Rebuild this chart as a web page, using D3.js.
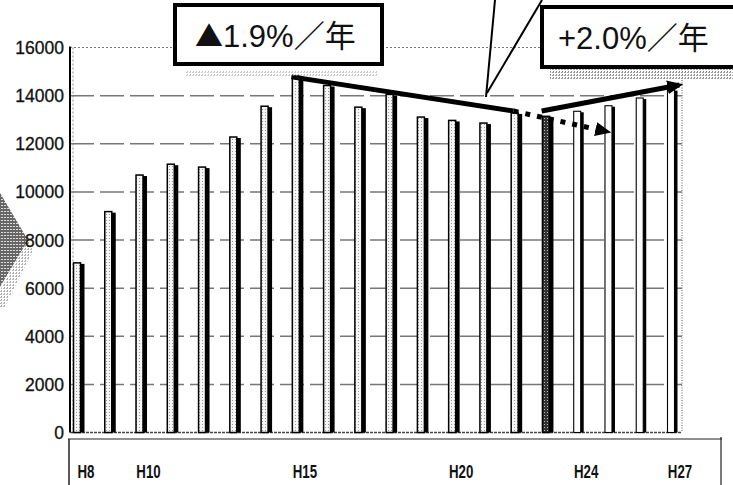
<!DOCTYPE html>
<html lang="ja">
<head>
  <meta charset="UTF-8">
  <title>推移</title>
  <script src="https://d3js.org/d3.v7.min.js"></script>
  <style>
    body { margin: 0; background: #fff; }
    svg { display: block; }
    .ytick { font-family: 'Liberation Sans', Arial, sans-serif; font-size: 17.5px; fill: #111; stroke: #111; stroke-width: 0.3px; }
    .xtick { font-family: 'Liberation Sans', Arial, sans-serif; font-size: 19px; font-weight: bold; fill: #111; }
    .boxtext { font-family: 'Liberation Sans', 'Noto Sans CJK JP', sans-serif; font-size: 31px; fill: #111; }
    .tri { font-family: 'Noto Sans CJK JP', sans-serif; font-size: 28px; }
  </style>
</head>
<body>
  <svg id="chart" width="733" height="485"></svg>
  <script>
    // data
    const years = ["H8","H9","H10","H11","H12","H13","H14","H15","H16","H17",
                   "H18","H19","H20","H21","H22","H23","H24","H25","H26","H27"];
    const values = [7050, 9180, 10700, 11150, 11030, 12280, 13560, 14830, 14420, 13520,
                    14050, 13110, 12970, 12860, 13280, 13140, 13350, 13580, 13900, 14250];
    const yTicks = [0, 2000, 4000, 6000, 8000, 10000, 12000, 14000, 16000];
    const xTickLabels = ["H8", "H10", "H15", "H20", "H24", "H27"];
    const boxTexts = [["▲", "1.9%／年"], ["", "+2.0%／年"]];
    // trend annotations: [year index, value]
    const trendDown = [[6.8, 14780], [13.9, 13360]];
    const trendDotted = [[13.9, 13360], [16.9, 12500]];
    const trendUp = [[14.8, 13360], [19.2, 14440]];

    const svg = d3.select("#chart");
    const x = d3.scaleLinear().domain([0, years.length - 1]).range([79, 673]);
    const y = d3.scaleLinear().domain([0, 16000]).range([432.5, 47.5]);
    const plotLeft = 70, plotRight = 682;

    // stipple patterns for the scanned look
    const defs = svg.append("defs");
    const light = defs.append("pattern").attr("id", "light")
      .attr("width", 3).attr("height", 3).attr("patternUnits", "userSpaceOnUse");
    light.append("rect").attr("width", 3).attr("height", 3).attr("fill", "#f6f6f6");
    light.append("rect").attr("x", 1).attr("y", 1).attr("width", 1).attr("height", 1).attr("fill", "#999");
    const dark = defs.append("pattern").attr("id", "dark")
      .attr("width", 3).attr("height", 3).attr("patternUnits", "userSpaceOnUse");
    dark.append("rect").attr("width", 3).attr("height", 3).attr("fill", "#333");
    dark.append("rect").attr("x", 1).attr("y", 1).attr("width", 1).attr("height", 1).attr("fill", "#bbb");
    const grey = defs.append("pattern").attr("id", "grey")
      .attr("width", 3).attr("height", 3).attr("patternUnits", "userSpaceOnUse");
    grey.append("rect").attr("width", 3).attr("height", 3).attr("fill", "#666");
    grey.append("rect").attr("x", 1).attr("y", 1).attr("width", 2).attr("height", 1).attr("fill", "#ddd");
    const mid = defs.append("pattern").attr("id", "mid")
      .attr("width", 3).attr("height", 3).attr("patternUnits", "userSpaceOnUse");
    mid.append("rect").attr("width", 3).attr("height", 3).attr("fill", "#fff");
    mid.append("rect").attr("width", 2).attr("height", 1).attr("fill", "#888");
    mid.append("rect").attr("x", 1).attr("y", 2).attr("width", 1).attr("height", 1).attr("fill", "#666");

    defs.append("marker").attr("id", "arrow")
      .attr("viewBox", "0 -7 16 14").attr("refX", 12).attr("refY", 0)
      .attr("markerWidth", 16).attr("markerHeight", 14)
      .attr("markerUnits", "userSpaceOnUse").attr("orient", "auto")
      .append("path").attr("d", "M0,-7L16,0L0,7Z").attr("fill", "#000");

    // left chevron decoration
    svg.append("polygon").attr("points", "28,240 33,251 4,308 0,308 0,290")
      .attr("fill", "url(#mid)").attr("opacity", 0.6);
    svg.append("polygon").attr("points", "0,193 28,240 0,287")
      .attr("fill", "url(#grey)");

    // grid lines
    svg.append("g").selectAll("line").data(yTicks.filter(d => d > 0)).enter().append("line")
      .attr("x1", plotLeft).attr("x2", plotRight)
      .attr("y1", d => y(d)).attr("y2", d => y(d))
      .attr("stroke", "#777")
      .attr("stroke-width", d => d === 16000 ? 1 : 1.5)
      .attr("stroke-dasharray", d => d === 16000 ? "2,2" : "24,6");

    // plot frame
    svg.append("line").attr("x1", plotRight).attr("x2", plotRight)
      .attr("y1", y(16000)).attr("y2", y(0))
      .attr("stroke", "#777").attr("stroke-width", 1.2).attr("stroke-dasharray", "1,1.5");
    svg.append("line").attr("x1", plotLeft).attr("x2", plotLeft)
      .attr("y1", y(16000) - 1).attr("y2", y(0))
      .attr("stroke", "#000").attr("stroke-width", 2);
    svg.append("line").attr("x1", plotLeft + 3).attr("x2", plotLeft + 3)
      .attr("y1", y(16000)).attr("y2", y(0))
      .attr("stroke", "#888").attr("stroke-width", 1).attr("stroke-dasharray", "2,2");
    svg.append("line").attr("x1", plotLeft).attr("x2", plotRight)
      .attr("y1", y(0)).attr("y2", y(0))
      .attr("stroke", "#444").attr("stroke-width", 1.5).attr("stroke-dasharray", "3,1");

    // y tick labels
    svg.append("g").selectAll("text").data(yTicks).enter().append("text")
      .attr("class", "ytick")
      .attr("x", 64).attr("y", d => y(d) + 6.5)
      .attr("text-anchor", "end")
      .text(d => d);

    // bars: stippled face plus black shadow on the right
    const bars = svg.append("g").selectAll("g").data(values).enter().append("g");
    bars.append("rect")
      .attr("x", (d, i) => x(i) - 5.5).attr("y", d => y(d))
      .attr("width", 7).attr("height", d => y(0) - y(d))
      .attr("fill", (d, i) => years[i] === "H23" ? "url(#dark)" : (i > 15 ? "#fff" : "url(#light)"))
      .attr("stroke", "#000").attr("stroke-width", (d, i) => i > 15 ? 1.1 : 1.5);
    bars.append("rect")
      .attr("x", (d, i) => x(i) + 1.5).attr("y", d => y(d) + 1)
      .attr("width", (d, i) => i > 15 ? 3 : 4).attr("height", d => y(0) - y(d) - 1)
      .attr("fill", "#000");

    // bottom table frame and labels
    svg.append("line").attr("x1", 68).attr("x2", 722).attr("y1", 439).attr("y2", 439)
      .attr("stroke", "#222").attr("stroke-width", 1.2);
    svg.append("line").attr("x1", 69).attr("x2", 69).attr("y1", 439).attr("y2", 485)
      .attr("stroke", "#222").attr("stroke-width", 1.5);
    svg.append("line").attr("x1", 721).attr("x2", 721).attr("y1", 437).attr("y2", 485)
      .attr("stroke", "#222").attr("stroke-width", 1.2);
    svg.append("g").selectAll("text").data(xTickLabels).enter().append("text")
      .attr("class", "xtick")
      .attr("transform", d => `translate(${x(years.indexOf(d)) + 7},478) scale(0.7,1)`)
      .attr("text-anchor", "middle")
      .text(d => d);

    // trend annotations
    const line = d3.line().x(d => x(d[0])).y(d => y(d[1]));
    svg.append("path").attr("d", line(trendDown))
      .attr("fill", "none").attr("stroke", "#000").attr("stroke-width", 5);
    svg.append("path").attr("d", line(trendDotted))
      .attr("fill", "none").attr("stroke", "#000").attr("stroke-width", 5)
      .attr("stroke-dasharray", "5,7").attr("marker-end", "url(#arrow)");
    svg.append("path").attr("d", line(trendUp))
      .attr("fill", "none").attr("stroke", "#000").attr("stroke-width", 5)
      .attr("marker-end", "url(#arrow)");

    // callout pointer lines from above
    svg.append("line").attr("x1", 495).attr("y1", 0).attr("x2", 486).attr("y2", 97)
      .attr("stroke", "#000").attr("stroke-width", 2);
    svg.append("line").attr("x1", 542).attr("y1", 0).attr("x2", 487).attr("y2", 93)
      .attr("stroke", "#000").attr("stroke-width", 2);

    // rate boxes
    const boxes = [
      { x: 175, y: 5, w: 207, h: 59, text: boxTexts[0], tx: 195 },
      { x: 542, y: 7, w: 196, h: 60, text: boxTexts[1], tx: 558 }
    ];
    svg.append("rect").attr("x", 185).attr("y", 71).attr("width", 192).attr("height", 5)
      .attr("fill", "url(#mid)").attr("opacity", 0.4);
    svg.append("rect").attr("x", 550).attr("y", 69).attr("width", 183).attr("height", 11)
      .attr("fill", "url(#mid)").attr("opacity", 0.8);
    const bx = svg.append("g").selectAll("g").data(boxes).enter().append("g");
    bx.append("rect")
      .attr("x", d => d.x).attr("y", d => d.y).attr("width", d => d.w).attr("height", d => d.h)
      .attr("fill", "#fff").attr("stroke", "#000").attr("stroke-width", 4);
    const bt = bx.append("text").attr("class", "boxtext")
      .attr("x", d => d.tx).attr("y", d => d.y + 42);
    bt.append("tspan").attr("class", "tri").text(d => d.text[0]);
    bt.append("tspan").text(d => d.text[1]);
  </script>
</body>
</html>
